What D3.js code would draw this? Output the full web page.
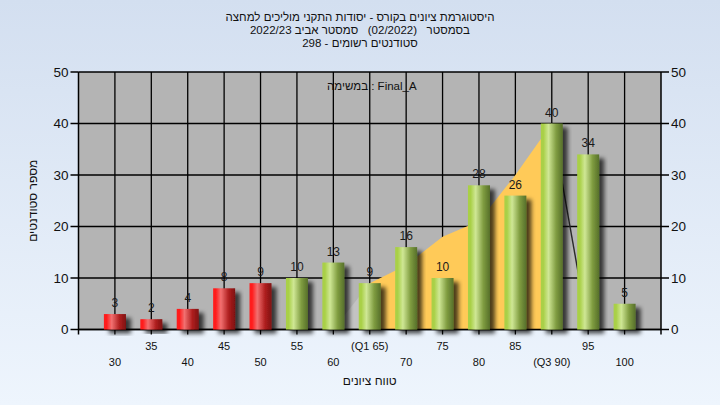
<!DOCTYPE html>
<html><head><meta charset="utf-8">
<script src="https://cdn.jsdelivr.net/npm/d3@7"></script>
<style>html,body{margin:0;padding:0;}svg{display:block;}text{white-space:pre;}</style>
</head><body>
<script>
const categories = [30,35,40,45,50,55,60,65,70,75,80,85,90,95,100];
const counts = [3,2,4,8,9,10,13,9,16,10,28,26,40,34,5];
const xTickLabels = ["30","35","40","45","50","55","60","(Q1 65)","70","75","80","85","(Q3 90)","95","100"];
const yTicks = [0,10,20,30,40,50];
const areaX = [60,65,70,75,80,85,90,95];
const areaY = [0,9,12.5,18,21,30,40,0];
const passMark = 55;
const titleLines = ["היסטוגרמת ציונים בקורס - יסודות התקני מוליכים למחצה",
                    "בסמסטר   (02/2022)   סמסטר אביב 2022/23",
                    "סטודנטים רשומים - 298"];
const legendText = "במשימה : Final_A";
const xTitle = "טווח ציונים";
const yTitle = "מספר סטודנטים";

const W = 720, H = 405;
const L = 78.5, R = 661, T = 72, B = 329.5;
const font = "'Liberation Sans', Arial, sans-serif";

const svg = d3.select("body").append("svg").attr("width", W).attr("height", H);
const defs = svg.append("defs");
const bgG = defs.append("linearGradient").attr("id","bg").attr("x1",0).attr("y1",0).attr("x2",0).attr("y2",1);
bgG.append("stop").attr("offset",0).attr("stop-color","#d3dff0");
bgG.append("stop").attr("offset",1).attr("stop-color","#eef5fd");

function barGrad(id, c0, c1, c2, c3) {
  const g = defs.append("linearGradient").attr("id", id).attr("x1",0).attr("x2",1).attr("y1",0).attr("y2",0);
  g.append("stop").attr("offset",0).attr("stop-color",c0);
  g.append("stop").attr("offset",0.12).attr("stop-color",c0);
  g.append("stop").attr("offset",0.35).attr("stop-color",c1);
  g.append("stop").attr("offset",0.7).attr("stop-color",c2);
  g.append("stop").attr("offset",1).attr("stop-color",c3);
}
barGrad("gRed", "#ff1c1c", "#f27070", "#b02020", "#7e1010");
barGrad("gGreen", "#a9d047", "#cfe795", "#7f9c40", "#566f2a");

const f = defs.append("filter").attr("id","shadow").attr("x","-20%").attr("y","-20%").attr("width","160%").attr("height","160%");
f.append("feDropShadow").attr("dx",5).attr("dy",4).attr("stdDeviation",2)
  .attr("flood-color","#000").attr("flood-opacity",0.7);

svg.append("rect").attr("width",W).attr("height",H).attr("fill","url(#bg)");

const x = d3.scaleLinear().domain([25,105]).range([L, R]);
const y = d3.scaleLinear().domain([0,50]).range([B, T]);

svg.append("rect").attr("x",L).attr("y",T).attr("width",R-L).attr("height",B-T).attr("fill","#b4b4b4");

const grid = svg.append("g").attr("stroke","#000").attr("stroke-width",1.3);
grid.selectAll("line.h").data(yTicks).join("line")
  .attr("x1",L).attr("x2",R).attr("y1",d=>y(d)).attr("y2",d=>y(d));
grid.selectAll("line.v").data(categories).join("line")
  .attr("x1",d=>x(d)).attr("x2",d=>x(d)).attr("y1",T).attr("y2",B+5);

const pts = areaX.map((v,i)=>({x:v, y:areaY[i]}));
const area = d3.area().x(d=>x(d.x)).y0(y(0)).y1(d=>y(d.y));
const q1 = 65, q3 = 90;
const segA = pts.filter(p=>p.x<=q1);
const segB = pts.filter(p=>p.x>=q1 && p.x<=q3);
const segC = pts.filter(p=>p.x>=q3);
svg.append("path").attr("d", area(segA)).attr("fill","#ffffff").attr("fill-opacity",0.2);
svg.append("path").attr("d", area(segB)).attr("fill","#ffca58");
svg.append("path").attr("d", area(segC)).attr("fill","#ffffff").attr("fill-opacity",0.06);
svg.append("path").attr("d", d3.line().x(d=>x(d.x)).y(d=>y(d.y))(segC))
  .attr("fill","none").attr("stroke","#2a2a2a").attr("stroke-width",1.4);

const ax = svg.append("g").attr("stroke","#000").attr("stroke-width",1.5);
ax.append("line").attr("x1",L).attr("x2",L).attr("y1",T).attr("y2",B+5);
ax.append("line").attr("x1",R).attr("x2",R).attr("y1",T).attr("y2",B+5);
ax.append("line").attr("x1",L).attr("x2",R).attr("y1",B).attr("y2",B);
ax.selectAll("line.tl").data(yTicks).join("line").attr("x1",L-8).attr("x2",L).attr("y1",d=>y(d)).attr("y2",d=>y(d));
ax.selectAll("line.tr").data(yTicks).join("line").attr("x1",R).attr("x2",R+8).attr("y1",d=>y(d)).attr("y2",d=>y(d));

const bw = 22;
svg.append("g").selectAll("rect").data(categories).join("rect")
  .attr("x",d=>x(d)-bw/2).attr("width",bw)
  .attr("y",(d,i)=>y(counts[i])).attr("height",(d,i)=>y(0)-y(counts[i]))
  .attr("fill",d=>d<passMark?"url(#gRed)":"url(#gGreen)")
  .attr("filter","url(#shadow)");

svg.append("g").selectAll("text").data(categories).join("text")
  .attr("x",d=>x(d)).attr("y",(d,i)=>y(counts[i])-7)
  .attr("text-anchor","middle").attr("font-family",font).attr("font-size",12).attr("fill","#1a1a1a")
  .text((d,i)=>counts[i]);

const tl = svg.append("g").attr("font-family",font).attr("font-size",13.5).attr("fill","#111");
tl.selectAll("text.l").data(yTicks).join("text").attr("x",L-10).attr("y",d=>y(d)).attr("dy","0.36em")
  .attr("text-anchor","end").text(d=>d);
tl.selectAll("text.r").data(yTicks).join("text").attr("x",R+10).attr("y",d=>y(d)).attr("dy","0.36em")
  .attr("text-anchor","start").text(d=>d);

svg.append("g").selectAll("text").data(categories).join("text")
  .attr("x",d=>x(d)).attr("y",(d,i)=> i%2===1 ? 350 : 366)
  .attr("text-anchor","middle").attr("font-family",font).attr("font-size",11).attr("fill","#111")
  .text((d,i)=>xTickLabels[i]);

svg.append("text").attr("x",(L+R)/2).attr("y",385).attr("text-anchor","middle")
  .attr("font-family",font).attr("font-size",12).attr("fill","#111").attr("direction","rtl").text(xTitle);
svg.append("text").attr("transform","translate(37,"+((T+B)/2)+") rotate(-90)").attr("text-anchor","middle")
  .attr("font-family",font).attr("font-size",12).attr("fill","#111").attr("direction","rtl").text(yTitle);

svg.append("text").attr("x",327).attr("y",90).attr("text-anchor","start")
  .attr("font-family",font).attr("font-size",11.5).attr("fill","#111").text(legendText);

svg.append("g").selectAll("text").data(titleLines).join("text")
  .attr("x",360).attr("y",(d,i)=>21+i*13).attr("text-anchor","middle").attr("direction","rtl")
  .attr("font-family",font).attr("font-size",11.5).attr("fill","#111").text(d=>d);
</script>
</body></html>
